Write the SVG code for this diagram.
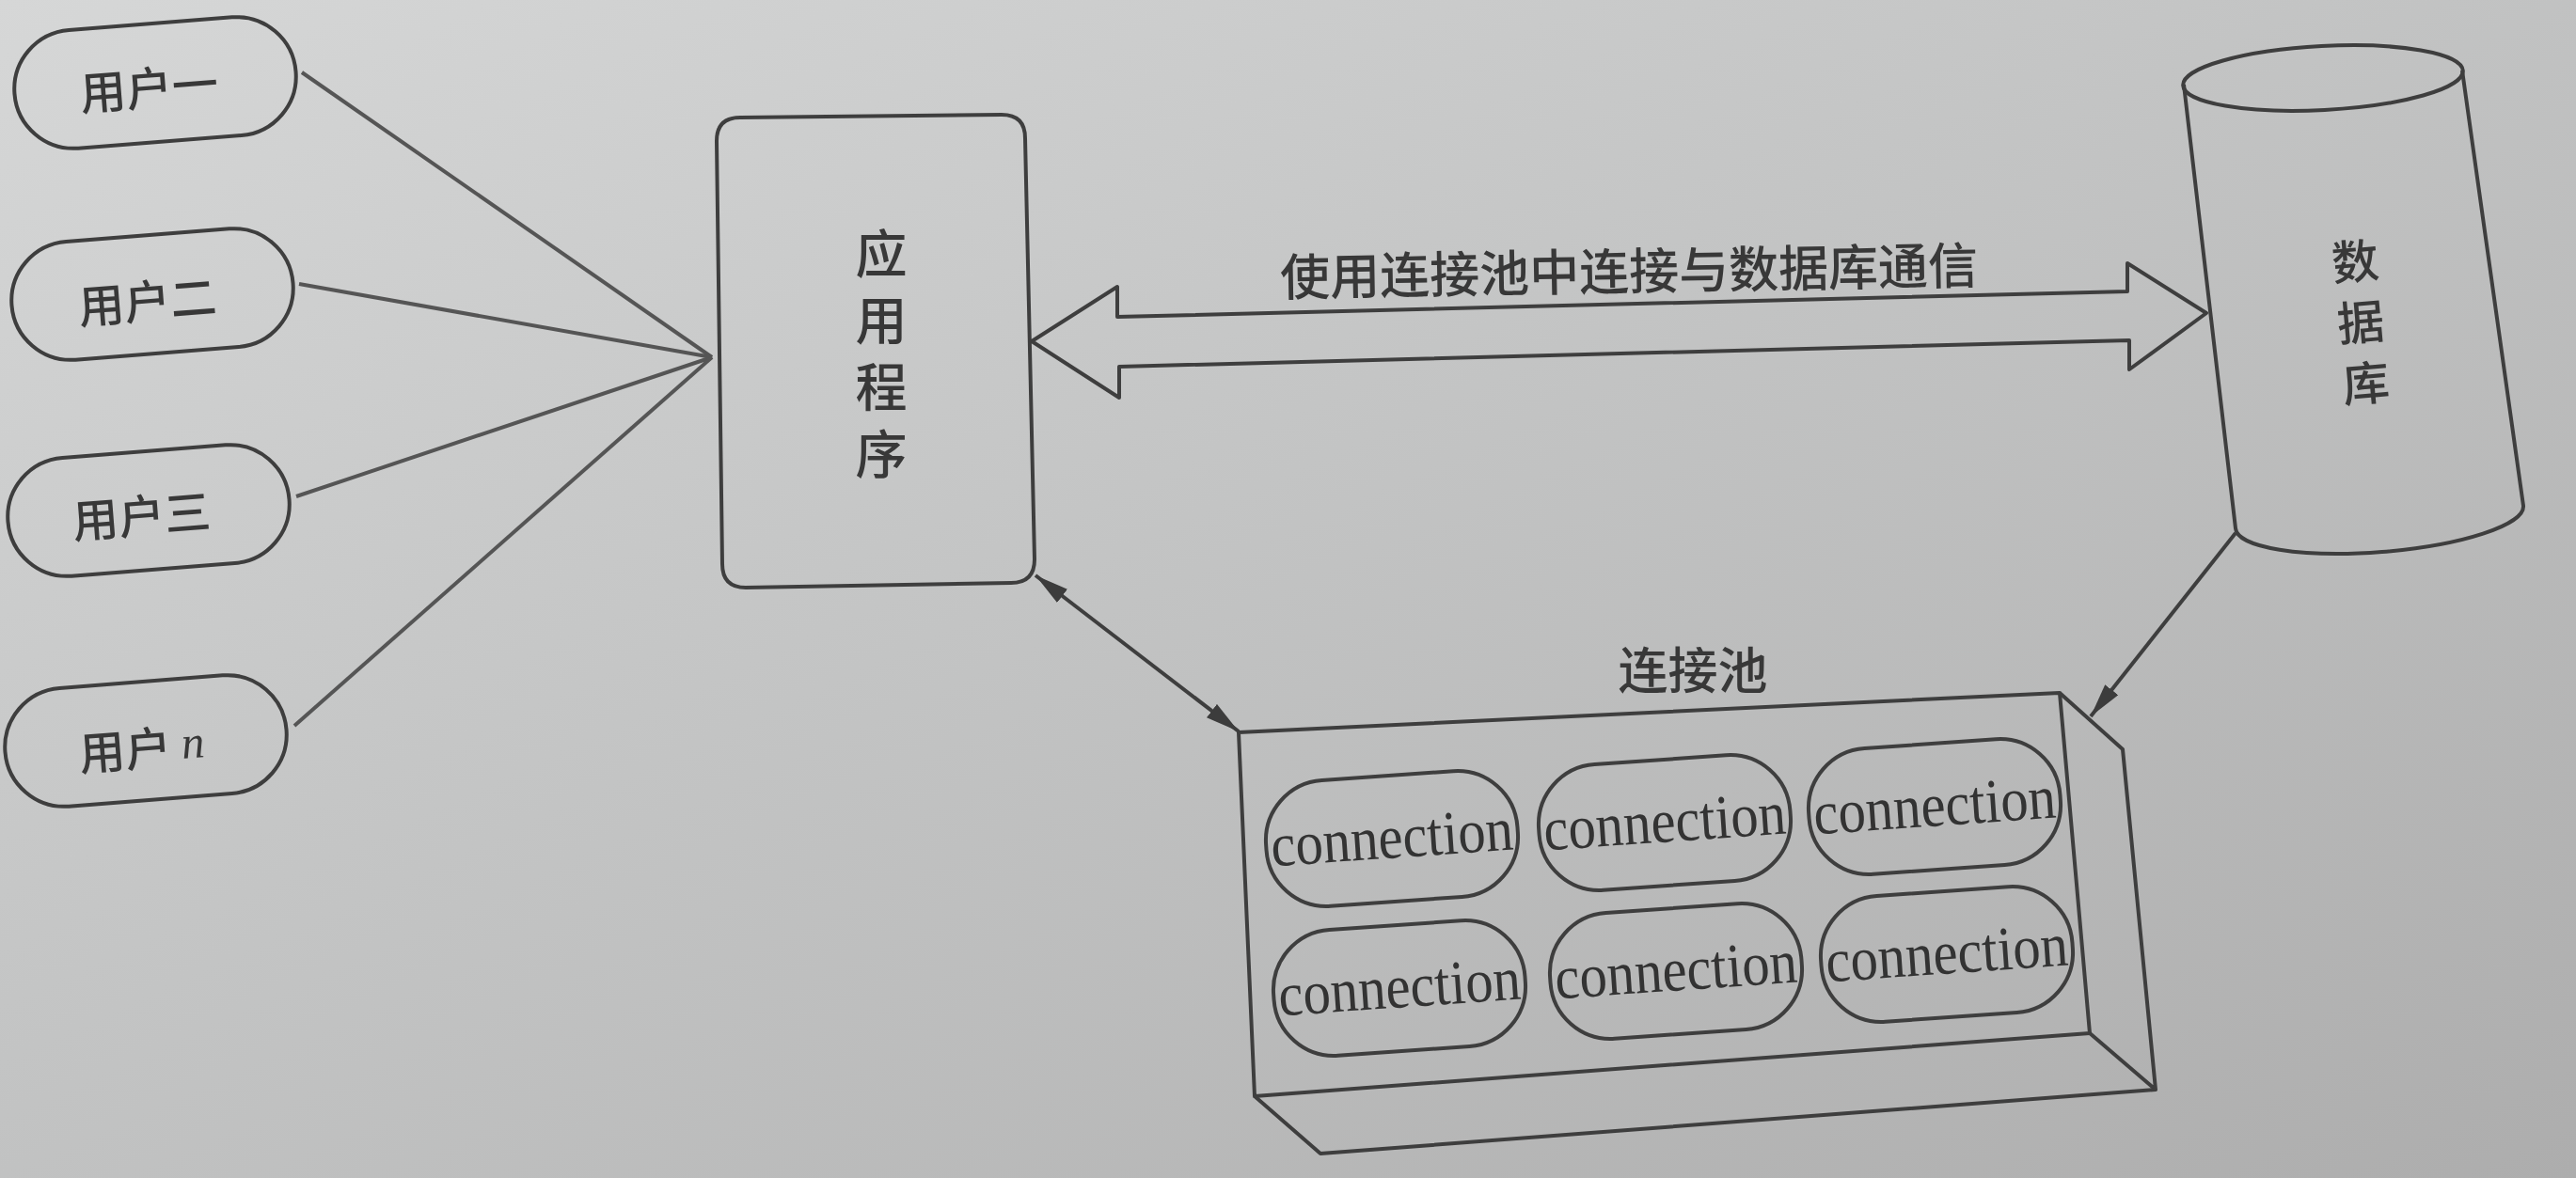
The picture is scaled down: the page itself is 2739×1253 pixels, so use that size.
<svg xmlns="http://www.w3.org/2000/svg" width="2739" height="1253" viewBox="0 0 2739 1253">
  <defs>
    <linearGradient id="paper" x1="0" y1="0" x2="1" y2="1">
      <stop offset="0" stop-color="#d6d7d7"/>
      <stop offset="0.45" stop-color="#c3c4c4"/>
      <stop offset="1" stop-color="#adadad"/>
    </linearGradient>
    <marker id="head" viewBox="0 0 36 18" refX="36" refY="9" markerWidth="36" markerHeight="18" markerUnits="userSpaceOnUse" orient="auto-start-reverse">
      <path d="M0,0 L36,9 L0,18 Z" fill="#3c3c3c"/>
    </marker>
    <style>
      .shape { fill: none; stroke: #3e3e3e; stroke-width: 4; stroke-linejoin: round; }
      .soft { fill: none; stroke: #555; stroke-width: 4; }
      .cjk { font-family: "Noto Sans CJK SC", "Noto Sans", sans-serif; fill: #383838; text-anchor: middle; dominant-baseline: central; font-weight: 500; }
      .vert { font-family: "Noto Sans CJK SC", "Noto Sans", sans-serif; fill: #383838; text-anchor: middle; font-weight: 500; writing-mode: vertical-rl; }
      .user { font-size: 49px; }
      .conn { font-family: "Liberation Serif", "Times New Roman", serif; font-size: 66px; fill: #333; text-anchor: middle; dominant-baseline: central; }
      .italic { font-family: "Liberation Serif", serif; font-style: italic; font-weight: normal; }
    </style>
  </defs>

  <rect x="0" y="0" width="2739" height="1253" fill="url(#paper)"/>

  <g id="connectors">
    <line class="soft" x1="321" y1="77" x2="757" y2="380"/>
    <line class="soft" x1="318" y1="302" x2="757" y2="380"/>
    <line class="soft" x1="315" y1="528" x2="757" y2="380"/>
    <line class="soft" x1="313" y1="772" x2="757" y2="380"/>
    <path id="double-arrow" class="shape" d="M1097,363 L1188,305 L1188,337 L2262,310 L2262,280 L2346,333 L2264,393 L2264,362 L1190,390 L1190,423 Z"/>
    <text class="cjk" font-size="53" x="1732" y="285" transform="rotate(-1 1732 285)">使用连接池中连接与数据库通信</text>
    <line class="shape" x1="1101" y1="612" x2="1317" y2="778" marker-start="url(#head)" marker-end="url(#head)"/>
    <line class="shape" x1="2377" y1="567" x2="2223" y2="762" marker-end="url(#head)"/>
  </g>

  <g id="user1" transform="rotate(-4.5 165 88)">
    <rect class="shape" x="15" y="25" width="300" height="126" rx="63"/>
    <text class="cjk user" x="158" y="90">用户一</text>
  </g>
  <g id="user2" transform="rotate(-4.5 162 313)">
    <rect class="shape" x="12" y="250" width="300" height="126" rx="63"/>
    <text class="cjk user" x="156" y="317">用户二</text>
  </g>
  <g id="user3" transform="rotate(-4.5 158 543)">
    <rect class="shape" x="8" y="480" width="300" height="126" rx="63"/>
    <text class="cjk user" x="150" y="545">用户三</text>
  </g>
  <g id="user4" transform="rotate(-4.5 155 788)">
    <rect class="shape" x="5" y="725" width="300" height="126" rx="63"/>
    <text class="cjk user" x="150" y="793">用户 <tspan class="italic">n</tspan></text>
  </g>

  <g id="app">
    <path class="shape" d="M787,125 L1065,122 Q1090,122 1090,147 L1100,595 Q1100,620 1075,620 L793,625 Q768,625 768,600 L762,150 Q762,125 787,125 Z"/>
    <text class="vert" font-size="55" letter-spacing="16" x="937" y="384">应用程序</text>
  </g>

  <g id="database">
    <path class="shape" d="M2322,90 L2377,562 A153 37 -4.5 0 0 2683,538 L2618,75"/>
    <ellipse class="shape" cx="2470" cy="83" rx="149" ry="34" transform="rotate(-3 2470 83)"/>
    <text class="vert" font-size="50" letter-spacing="15" x="2510" y="350" transform="rotate(-5 2510 343)">数据库</text>
  </g>

  <g id="pool">
    <text class="cjk" font-size="53" x="1800" y="710">连接池</text>
    <path class="shape" d="M1317,779 L2190,737 L2222,1099 L1334,1166 Z"/>
    <path class="shape" d="M2190,737 L2257,797 L2292,1159 L2222,1099"/>
    <path class="shape" d="M1334,1166 L1404,1227 L2292,1159"/>
    <g id="conn1" transform="rotate(-4 1480 892)">
      <rect class="shape" x="1346" y="825" width="268" height="134" rx="64"/>
      <text class="conn" x="1480" y="890" textLength="258" lengthAdjust="spacingAndGlyphs">connection</text>
    </g>
    <g id="conn2" transform="rotate(-4 1770 875)">
      <rect class="shape" x="1636" y="808" width="268" height="134" rx="64"/>
      <text class="conn" x="1770" y="873" textLength="258" lengthAdjust="spacingAndGlyphs">connection</text>
    </g>
    <g id="conn3" transform="rotate(-4 2057 858)">
      <rect class="shape" x="1923" y="791" width="268" height="134" rx="64"/>
      <text class="conn" x="2057" y="856" textLength="258" lengthAdjust="spacingAndGlyphs">connection</text>
    </g>
    <g id="conn4" transform="rotate(-4 1488 1051)">
      <rect class="shape" x="1354" y="984" width="268" height="134" rx="64"/>
      <text class="conn" x="1488" y="1049" textLength="258" lengthAdjust="spacingAndGlyphs">connection</text>
    </g>
    <g id="conn5" transform="rotate(-4 1782 1033)">
      <rect class="shape" x="1648" y="966" width="268" height="134" rx="64"/>
      <text class="conn" x="1782" y="1031" textLength="258" lengthAdjust="spacingAndGlyphs">connection</text>
    </g>
    <g id="conn6" transform="rotate(-4 2070 1015)">
      <rect class="shape" x="1936" y="948" width="268" height="134" rx="64"/>
      <text class="conn" x="2070" y="1013" textLength="258" lengthAdjust="spacingAndGlyphs">connection</text>
    </g>
  </g>
</svg>
